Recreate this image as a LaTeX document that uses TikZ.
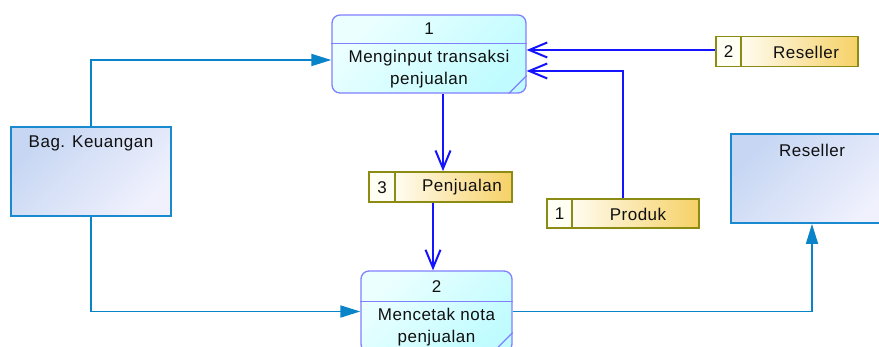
\documentclass[tikz,border=0pt]{standalone}
\usepackage{fontspec}
\setmainfont[LetterSpace=3]{Liberation Sans}
\usetikzlibrary{arrows.meta,calc}
\definecolor{procline}{HTML}{8080FF}
\definecolor{procA}{HTML}{ECFFFF}
\definecolor{procB}{HTML}{C0FCFF}
\definecolor{entline}{HTML}{1A8AD0}
\definecolor{entA}{HTML}{C6D6F3}
\definecolor{entB}{HTML}{F0F1FD}
\definecolor{storeline}{HTML}{8C8C14}
\definecolor{storeA}{HTML}{FFFFF4}
\definecolor{storeB}{HTML}{FFFCF0}
\definecolor{storeC}{HTML}{F6D166}
\definecolor{eline}{HTML}{0A84C8}
\definecolor{pline}{HTML}{1414FF}
\definecolor{txtc}{HTML}{101010}
\tikzset{
  proc/.style={draw=procline, line width=1.3pt, rounded corners=8pt, top color=procA, bottom color=procB, shading angle=45, inner sep=0pt},
  ent/.style={draw=entline, line width=1.8pt, top color=entA, bottom color=entB, shading angle=45, inner sep=0pt},
  storenum/.style={draw=storeline, line width=1.8pt, fill=storeA, inner sep=0pt},
  storename/.style={draw=storeline, line width=1.8pt, left color=storeB, right color=storeC, inner sep=0pt},
  txt/.style={text=txtc, inner sep=0pt, align=center},
  eflow/.style={draw=eline, line width=1.8pt, -{Triangle[length=20pt,width=12pt]}},
  pflow/.style={draw=pline, line width=2pt, -{Straight Barb[length=18pt,width=15pt]}},
  divline/.style={draw=procline, line width=1.3pt}
}
\begin{document}
\begin{tikzpicture}[x=1pt,y=-1pt, font=\fontsize{17}{22}\selectfont]
\useasboundingbox (0,0) rectangle (879,347);
\clip (0,0) rectangle (879,347);

% processes
\node[proc, minimum width=194pt, minimum height=78pt] (p1) at (429,54) {};
\draw[divline] ([yshift=-29pt]p1.north west) -- ([yshift=-29pt]p1.north east);
\draw[divline] ([xshift=-18pt]p1.south east) -- ([yshift=18pt]p1.south east);
\node[txt] (p1id) at (429,29) {1};
\node[txt] (p1t) at (429,69) {Menginput transaksi\\penjualan};

\node[proc, minimum width=151pt, minimum height=81pt] (p2) at (436.5,311.5) {};
\draw[divline] ([yshift=-31pt]p2.north west) -- ([yshift=-31pt]p2.north east);
\draw[divline] ([xshift=-20pt]p2.south east) -- ([yshift=20pt]p2.south east);
\node[txt] (p2id) at (436.5,287) {2};
\node[txt] (p2t) at (436.5,327) {Mencetak nota\\penjualan};

% entities
\node[ent, minimum width=160pt, minimum height=89pt] (bk) at (91,171.5) {};
\node[txt] (bkt) at (91,143) {Bag. Keuangan};
\node[ent, minimum width=162pt, minimum height=89pt] (rs) at (812,178.5) {};
\node[txt] (rst) at (812,150) {Reseller};

% data stores
\node[storenum, minimum width=25pt, minimum height=30pt] (s2n) at (728.5,51.5) {};
\node[storename, minimum width=117pt, minimum height=30pt] (s2) at (799.5,51.5) {};
\node[txt] (s2id) at (728.5,52) {2};
\node[txt] (s2t) at (806,52) {Reseller};

\node[storenum, minimum width=26pt, minimum height=30pt] (s3n) at (382,187) {};
\node[storename, minimum width=117pt, minimum height=30pt] (s3) at (453.5,187) {};
\node[txt] (s3id) at (382,187.5) {3};
\node[txt] (s3t) at (462,187.5) {Penjualan};

\node[storenum, minimum width=25pt, minimum height=29pt] (s1n) at (559.5,213.5) {};
\node[storename, minimum width=127pt, minimum height=29pt] (s1) at (635.5,213.5) {};
\node[txt] (s1id) at (559.5,214) {1};
\node[txt] (s1t) at (638,214) {Produk};

% connectors
\draw[eflow] (bk.north) |- ([yshift=-6pt]p1.west);
\draw[eflow] (bk.south) |- (p2.west);
\draw[eflow] (p2.east) -| (rs.south);

\draw[pflow] ([xshift=14pt]p1.south) -- ([xshift=14pt]p1.south |- s3.north);
\draw[pflow] ([xshift=-20.5pt]s3.south) -- ([xshift=-20.5pt]s3.south |- p2.north);
\draw[pflow] ([yshift=1.5pt]s2n.west) -- ([yshift=1.5pt]s2n.west -| p1.east);
\draw[pflow] ([xshift=-12.5pt]s1.north) |- ([yshift=-17pt]p1.east);
\end{tikzpicture}
\end{document}
